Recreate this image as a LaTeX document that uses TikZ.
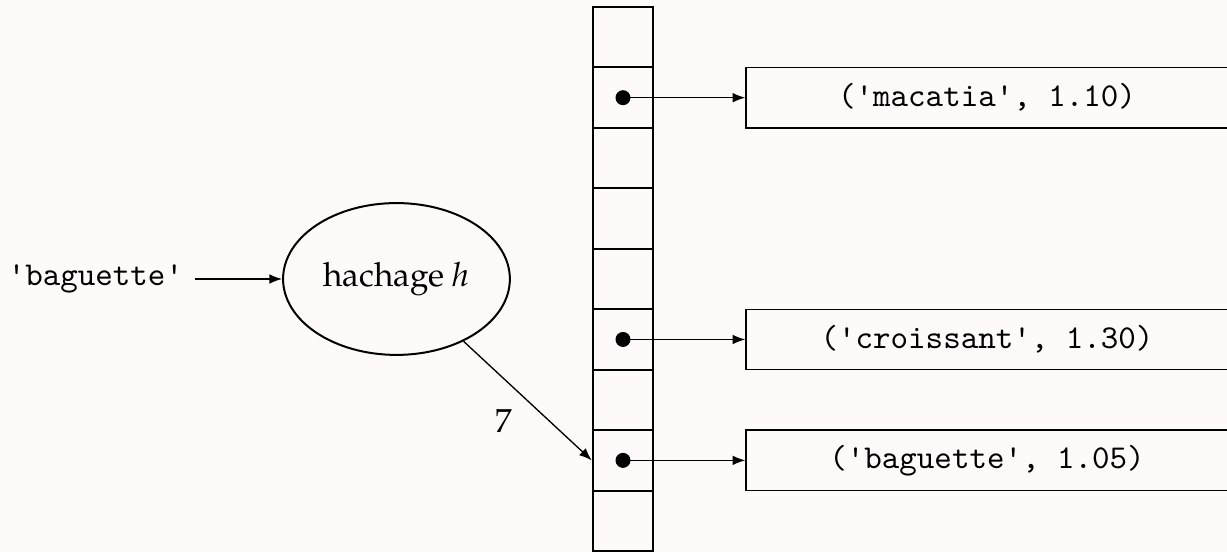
\documentclass[tikz,border=0pt]{standalone}
\usepackage{fontspec}
\setmainfont{TeX Gyre Pagella}
\usetikzlibrary{arrows.meta}
\usetikzlibrary{positioning}
\usetikzlibrary{shapes.geometric}
\definecolor{fond}{RGB}{253,250,249}

\begin{document}
\begin{tikzpicture}[>={Latex[length=3.8pt,width=2.9pt]},
    case/.style={draw, semithick, minimum size=0.637cm, inner sep=0},
    paire/.style={draw, minimum width=5.08cm, minimum height=0.637cm, font=\ttfamily}]
\useasboundingbox[fill=fond] (0,0) rectangle (12.93,5.817);
\foreach \i in {0,...,8}
    \node[case] (c\i) at (6.565, 5.4245-0.637*\i) {};
\node[ellipse, draw, semithick, inner sep=0.5pt, minimum width=2.39cm, minimum height=1.6cm] (h) at (4.178,2.877) {hachage \textit{h}};
\node[font=\ttfamily] (cle) at (1.006,2.877) {'baguette'};
\draw[->] (cle) -- (h);
\draw[->] (h) -- node[below left, pos=0.47] (sept) {7} (c7.west);
\foreach \i/\txt in {1/{('macatia', 1.10)}, 5/{('croissant', 1.30)}, 7/{('baguette', 1.05)}} {
    \node[paire, right=0.96cm of c\i] (p\i) {\txt};
    \fill (c\i.center) circle (0.079);
    \draw[->] (c\i.center) -- (p\i);
}
\end{tikzpicture}
\end{document}
